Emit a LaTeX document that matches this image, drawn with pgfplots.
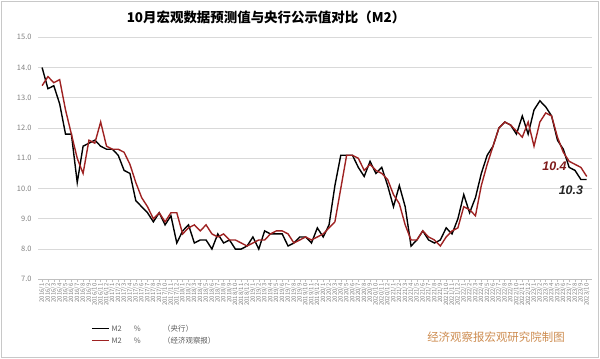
\documentclass[border=0pt]{standalone}
\usepackage{fontspec}
\setmainfont{Noto Sans CJK SC}
\newfontfamily\numfont{Liberation Sans}
\usepackage{pgfplots}
\pgfplotsset{compat=1.18}
\definecolor{gridc}{HTML}{D9D9D9}
\definecolor{axisc}{HTML}{BFBFBF}
\definecolor{labelc}{HTML}{7F7F7F}
\definecolor{legc}{HTML}{595959}
\definecolor{redc}{RGB}{158,34,34}
\definecolor{framec}{HTML}{C8C8C8}
\definecolor{wmc}{RGB}{205,140,80}
\begin{document}
\begin{tikzpicture}
\path[use as bounding box] (0bp,0bp) rectangle (600bp,359bp);
\draw[framec, line width=1.2bp] (1.5bp,1.5bp) rectangle (598.5bp,357.5bp);
\node[font=\fontsize{13.5}{15}\selectfont\bfseries] at (266bp,342bp) {10月宏观数据预测值与央行公示值对比（M2）};
\begin{axis}[
  at={(38bp,79.7bp)}, anchor=south west,
  width=554bp, height=242bp, scale only axis,
  xmin=-0.7, xmax=93.9, ymin=7, ymax=15,
  ytick={7,8,...,15},
  xtick={0,1,...,93},
  axis x line=bottom, axis y line=left,
  axis line style={-},
  y axis line style={draw=none},
  x axis line style={draw=axisc, line width=0.8bp},
  ymajorgrids, major grid style={gridc, line width=0.8bp},
  ytick style={draw=none},
  xtick style={axisc, line width=0.5bp},
  tick align=outside, major tick length=3bp,
  xticklabel={\pgfmathtruncatemacro{\idx}{round(\tick)}\pgfmathtruncatemacro{\yr}{2016+floor(\idx/12)}\pgfmathtruncatemacro{\mo}{\idx-12*floor(\idx/12)+1}\yr/\mo},
  xticklabel style={rotate=90, anchor=east, font=\fontsize{6}{6}\selectfont, text=labelc, inner sep=1bp},
  yticklabel style={font=\fontsize{7.5}{8}\selectfont, text=labelc},
  /pgf/number format/.cd, fixed, fixed zerofill, precision=1, assume math mode=true,
  /pgfplots/.cd,
  legend style={at={(0.094,-0.175)}, anchor=north west, draw=none, fill=none,
    font=\fontsize{7.5}{9}\selectfont, text=legc, row sep=0bp, inner sep=1bp},
  legend cell align=left,
  legend image code/.code={\draw[#1] (0bp,0bp) -- (17bp,0bp);},
]
\addplot[black, line width=1.4bp] coordinates {
(0,14.0)(1,13.3)(2,13.4)(3,12.8)(4,11.8)(5,11.8)(6,10.2)(7,11.4)(8,11.5)(9,11.6)
(10,11.4)(11,11.3)(12,11.3)(13,11.1)(14,10.6)(15,10.5)(16,9.6)(17,9.4)(18,9.2)(19,8.9)
(20,9.2)(21,8.8)(22,9.1)(23,8.2)(24,8.6)(25,8.8)(26,8.2)(27,8.3)(28,8.3)(29,8.0)
(30,8.5)(31,8.2)(32,8.3)(33,8.0)(34,8.0)(35,8.1)(36,8.4)(37,8.0)(38,8.6)(39,8.5)
(40,8.5)(41,8.5)(42,8.1)(43,8.2)(44,8.4)(45,8.4)(46,8.2)(47,8.7)(48,8.4)(49,8.8)
(50,10.1)(51,11.1)(52,11.1)(53,11.1)(54,10.7)(55,10.4)(56,10.9)(57,10.5)(58,10.7)(59,10.1)
(60,9.4)(61,10.1)(62,9.4)(63,8.1)(64,8.3)(65,8.6)(66,8.3)(67,8.2)(68,8.3)(69,8.7)
(70,8.5)(71,9.0)(72,9.8)(73,9.2)(74,9.7)(75,10.5)(76,11.1)(77,11.4)(78,12.0)(79,12.2)
(80,12.1)(81,11.8)(82,12.4)(83,11.8)(84,12.6)(85,12.9)(86,12.7)(87,12.4)(88,11.6)(89,11.3)
(90,10.7)(91,10.6)(92,10.3)(93,10.3)};
\addlegendentry{M2\hspace{1.6em}\%\hspace{3em}（央行）}
\addplot[redc, line width=1.4bp] coordinates {
(0,13.4)(1,13.7)(2,13.5)(3,13.6)(4,12.6)(5,11.8)(6,11.0)(7,10.5)(8,11.6)(9,11.5)
(10,12.2)(11,11.4)(12,11.3)(13,11.3)(14,11.2)(15,10.8)(16,10.2)(17,9.7)(18,9.4)(19,9.0)
(20,9.2)(21,8.9)(22,9.2)(23,9.2)(24,8.5)(25,8.7)(26,8.8)(27,8.6)(28,8.8)(29,8.5)
(30,8.4)(31,8.5)(32,8.3)(33,8.3)(34,8.2)(35,8.1)(36,8.2)(37,8.3)(38,8.3)(39,8.5)
(40,8.6)(41,8.6)(42,8.5)(43,8.2)(44,8.3)(45,8.4)(46,8.3)(47,8.4)(48,8.5)(49,8.7)
(50,8.9)(51,10.0)(52,11.1)(53,11.1)(54,11.0)(55,10.6)(56,10.8)(57,10.6)(58,10.5)(59,10.3)
(60,9.8)(61,9.5)(62,8.8)(63,8.3)(64,8.3)(65,8.6)(66,8.4)(67,8.3)(68,8.1)(69,8.4)
(70,8.6)(71,8.7)(72,9.4)(73,9.3)(74,9.1)(75,10.1)(76,10.8)(77,11.4)(78,12.0)(79,12.2)
(80,12.1)(81,11.9)(82,11.7)(83,12.2)(84,11.4)(85,12.2)(86,12.5)(87,12.4)(88,11.7)(89,11.2)
(90,10.9)(91,10.8)(92,10.7)(93,10.4)};
\addlegendentry{M2\hspace{1.6em}\%\hspace{3em}（经济观察报）}
\node[font=\numfont\fontsize{12.5}{13}\selectfont\bfseries\itshape, text=redc!80!black] at (axis cs:87.5,10.73) {10.4};
\node[font=\numfont\fontsize{12.5}{13}\selectfont\bfseries\itshape, text=black!85] at (axis cs:90.3,9.96) {10.3};
\end{axis}
\node[text=wmc, font=\fontsize{11.5}{12}\selectfont] at (496bp,22bp) {经济观察报宏观研究院制图};
\end{tikzpicture}
\end{document}
